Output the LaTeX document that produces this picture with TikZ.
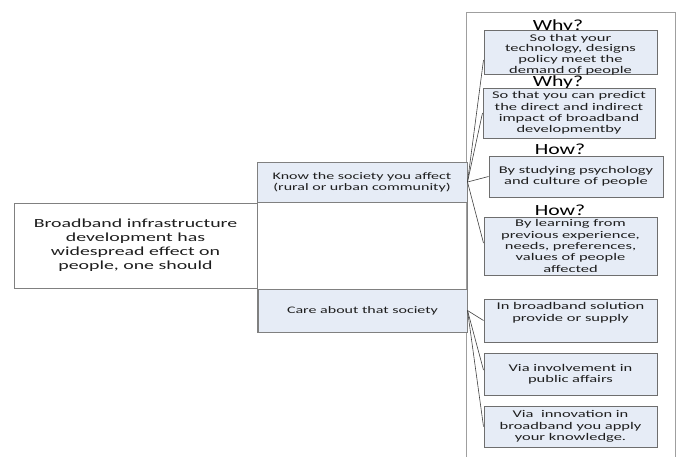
\documentclass[tikz,border=0pt]{standalone}
\usepackage{fontspec}
\setmainfont{Carlito}
\newfontfamily\bodyfont{Carlito}[FakeStretch=1.6]
\newfontfamily\headfont{Carlito}[FakeStretch=1.4]
\definecolor{boxfill}{RGB}{230,236,246}
\definecolor{boxline}{RGB}{128,128,128}
\definecolor{rline}{RGB}{110,110,110}
\definecolor{txt}{RGB}{30,30,30}
\begin{document}
\begin{tikzpicture}[x=1pt,y=-1pt,
  lbox/.style={draw=boxline, line width=0.8pt, fill=white, align=center, inner sep=0pt,
    font=\bodyfont\fontsize{12.4}{14}\selectfont, text=txt},
  mbox/.style={draw=boxline, fill=boxfill, line width=1pt, align=center, inner sep=0pt,
    font=\bodyfont\fontsize{10}{10.7}\selectfont, text=txt},
  rbox/.style={draw=rline, fill=boxfill, line width=1pt, align=center, inner sep=0pt,
    font=\bodyfont\fontsize{10.3}{11.3}\selectfont, text=txt},
  head/.style={font=\headfont\fontsize{15.5}{16}\selectfont, inner sep=0pt, text=black},
  frame/.style={draw=boxline, line width=0.8pt, inner sep=0pt},
  link/.style={draw=black!75, line width=0.6pt}]
\useasboundingbox (0,0) rectangle (683,456);
\fill[white] (0,0) rectangle (683,456);

% outer frame on the right
\node[frame, draw=gray!75, minimum width=209pt, minimum height=446pt, anchor=north west] (outer) at (466,12) {};

% middle frame
\node[frame, minimum width=210pt, minimum height=170pt, anchor=north west] (mframe) at (257,162) {};

% left box
\node[lbox, minimum width=243pt, minimum height=85pt] (root) at (135.5,245.5)
  {Broadband infrastructure\\development has\\widespread effect on\\people, one should};

% middle boxes
\node[mbox, minimum width=210pt, minimum height=40pt] (know) at (362,182)
  {Know the society you affect\\(rural or urban community)};
\node[mbox, minimum width=209pt, minimum height=43pt] (care) at (362.5,310.5)
  {Care about that society};

% headings
\node[head, anchor=base] (why1) at (558,30) {Why?};
\node[head, anchor=base] (why2) at (558,86) {Why?};
\node[head, anchor=base] (how1) at (560,154) {How?};
\node[head, anchor=base] (how2) at (560,215) {How?};

% right boxes
\node[rbox, minimum width=173pt, minimum height=41pt, font=\bodyfont\fontsize{10.3}{10.6}\selectfont] (b1) at (570.5,52.5)
  {\rule{0pt}{11pt}So that your\\technology, designs\\policy meet the\\demand of people};
\node[rbox, minimum width=172pt, minimum height=50pt] (b2) at (569,113)
  {So that you can predict\\the direct and indirect\\impact of broadband\\developmentby};
\node[rbox, minimum width=174pt, minimum height=41pt] (b3) at (576,176.5)
  {By studying psychology\\and culture of people};
\node[rbox, minimum width=173pt, minimum height=58pt] (b4) at (570.5,246)
  {By learning from\\previous experience,\\needs, preferences,\\values of people\\affected};
\node[rbox, minimum width=173pt, minimum height=43pt] (b5) at (570.5,320.5)
  {In broadband solution\\provide or supply\\[6pt]};
\node[rbox, minimum width=173pt, minimum height=42pt] (b6) at (570.5,374)
  {Via involvement in\\public affairs};
\node[rbox, minimum width=173pt, minimum height=41pt] (b7) at (570.5,426.5)
  {Via\ \ innovation in\\broadband you apply\\your knowledge.};

% connectors
\coordinate (k1) at ([yshift=-7.5pt]b1.west);
\draw[link] (know.east) -- (k1);
\draw[link] (know.east) -- (b2.west);
\draw[link] (know.east) -- (b3.west);
\draw[link] (know.east) -- ([yshift=3pt]b4.west);
\draw[link] (care.east) -- (b5.west);
\draw[link] (care.east) -- ([yshift=4pt]b6.west);
\draw[link] (care.east) -- (b7.west);
\end{tikzpicture}
\end{document}
